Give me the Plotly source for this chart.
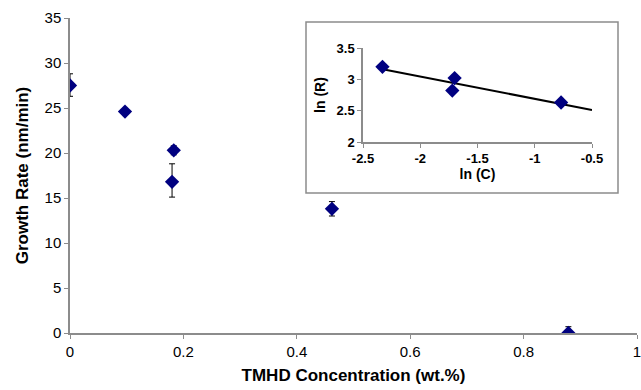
import plotly.graph_objects as go

# Main data
conc = [0.0, 0.097, 0.183, 0.180, 0.462, 0.879]
rate = [27.5, 24.6, 20.3, 16.8, 13.8, 0.0]
err_plus = [1.3, 0.3, 0.5, 2.0, 0.8, 0.7]
err_minus = [1.2, 0.3, 0.5, 1.7, 0.8, 0.7]

# Inset data
ln_c = [-2.33, -1.70, -1.72, -0.77]
ln_r = [3.20, 3.02, 2.82, 2.63]
trend_x = [-2.35, -0.5]
trend_y = [3.17, 2.51]

navy = "#000080"
axis_col = "#8c8c8c"
font_fam = "Liberation Sans, Arial, sans-serif"

fig = go.Figure()
fig.add_trace(go.Scatter(
    x=conc, y=rate, mode="markers",
    marker=dict(symbol="diamond", size=11, color=navy),
    error_y=dict(type="data", symmetric=False, array=err_plus, arrayminus=err_minus,
                 color="black", thickness=1, width=3),
    cliponaxis=True, showlegend=False, xaxis="x", yaxis="y"))

fig.add_trace(go.Scatter(
    x=trend_x, y=trend_y, mode="lines", line=dict(color="black", width=2),
    showlegend=False, xaxis="x2", yaxis="y2"))
fig.add_trace(go.Scatter(
    x=ln_c, y=ln_r, mode="markers",
    marker=dict(symbol="diamond", size=11, color=navy),
    showlegend=False, xaxis="x2", yaxis="y2"))

L, R, T, B = 70, 4, 18, 57
W, H = 641, 390
pw, ph = W - L - R, H - T - B

def px_x(p):
    return (p - L) / pw

def px_y(p):
    return (H - B - p) / ph

fig.update_layout(
    width=W, height=H,
    margin=dict(l=L, r=R, t=T, b=B, autoexpand=False),
    paper_bgcolor="white", plot_bgcolor="white",
    font=dict(family=font_fam, color="black"),
    xaxis=dict(range=[0, 1], tickvals=[0, 0.2, 0.4, 0.6, 0.8, 1],
               ticktext=["0", "0.2", "0.4", "0.6", "0.8", "1"],
               showline=True, linecolor=axis_col, linewidth=1.5,
               ticks="outside", ticklen=4, tickcolor=axis_col,
               showgrid=False, zeroline=False, automargin=False,
               ticklabeloverflow="allow",
               tickfont=dict(size=15, family=font_fam),
               title=dict(text="<b>TMHD Concentration (wt.%)</b>", font=dict(size=17, family=font_fam), standoff=10)),
    yaxis=dict(range=[0, 35], tickvals=[0, 5, 10, 15, 20, 25, 30, 35],
               showline=True, linecolor=axis_col, linewidth=1.5,
               ticks="outside", ticklen=4, tickcolor=axis_col,
               showgrid=False, zeroline=False, automargin=False,
               ticklabeloverflow="allow",
               tickfont=dict(size=15, family=font_fam),
               title=dict(text="<b>Growth Rate (nm/min)</b>", font=dict(size=17, family=font_fam), standoff=12)),
    xaxis2=dict(domain=[px_x(363), px_x(592)], anchor="y2", range=[-2.5, -0.5],
                tickvals=[-2.5, -2, -1.5, -1, -0.5],
                ticktext=["-2.5", "-2", "-1.5", "-1", "-0.5"],
                showline=True, linecolor=axis_col, linewidth=1.5,
                ticks="outside", ticklen=4, tickcolor=axis_col,
                showgrid=False, zeroline=False, automargin=False,
                tickfont=dict(size=13, family=font_fam, weight="bold"),
                title=dict(text="<b>ln (C)</b>", font=dict(size=14, family=font_fam), standoff=0)),
    yaxis2=dict(domain=[px_y(142), px_y(48)], anchor="x2", range=[2, 3.5],
                tickvals=[2, 2.5, 3, 3.5], ticktext=["2", "2.5", "3", "3.5"],
                showline=True, linecolor=axis_col, linewidth=1.5,
                ticks="outside", ticklen=4, tickcolor=axis_col,
                showgrid=False, zeroline=False, automargin=False,
                tickfont=dict(size=13, family=font_fam, weight="bold"),
                title=dict(text="<b>ln (R)</b>", font=dict(size=14, family=font_fam), standoff=8)),
    shapes=[dict(type="rect", xref="paper", yref="paper",
                 x0=px_x(306), x1=px_x(618), y0=px_y(193), y1=px_y(22),
                 line=dict(color=axis_col, width=1.5), fillcolor="white", layer="below")],
)

fig.write_html("out.html")
